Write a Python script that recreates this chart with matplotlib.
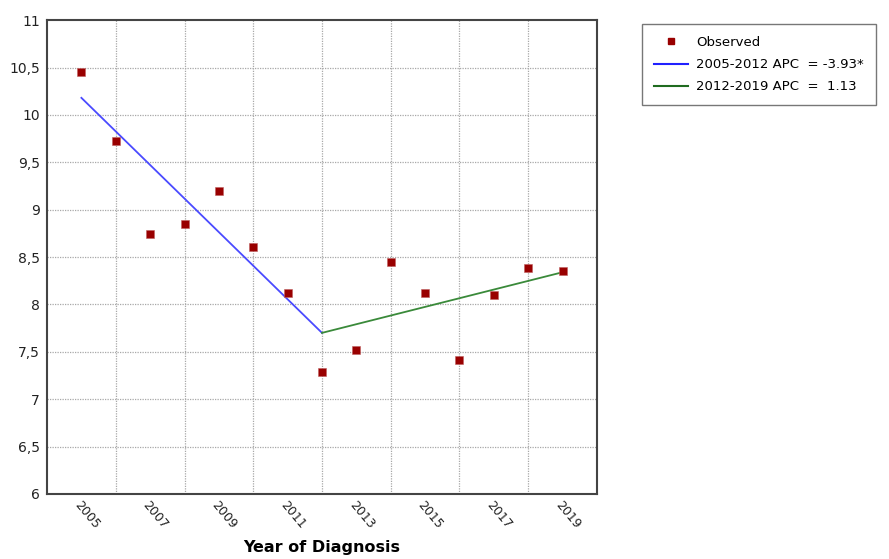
import matplotlib
matplotlib.use("Agg")
import matplotlib.pyplot as plt
from matplotlib.lines import Line2D
from matplotlib.ticker import FuncFormatter

# observed rates by year of diagnosis
years = [2005, 2006, 2007, 2008, 2009, 2010, 2011, 2012,
         2013, 2014, 2015, 2016, 2017, 2018, 2019]
observed = [10.45, 9.72, 8.74, 8.85, 9.20, 8.61, 8.12, 7.29,
            7.52, 8.45, 8.12, 7.41, 8.10, 8.38, 8.35]

# joinpoint segments (fitted endpoints)
seg1_years = [2005, 2012]
seg1_fit = [10.18, 7.70]
seg2_years = [2012, 2019]
seg2_fit = [7.70, 8.34]

seg1_label = "2005-2012 APC  = -3.93*"
seg2_label = "2012-2019 APC  =  1.13"

xtick_years = [2005, 2007, 2009, 2011, 2013, 2015, 2017, 2019]
grid_years = [2006, 2008, 2010, 2012, 2014, 2016, 2018]

fig = plt.figure(figsize=(8.89, 5.59), dpi=100)
ax = fig.add_axes([0.0529, 0.1163, 0.6186, 0.8477])

ax.plot(seg1_years, seg1_fit, color="#4a4aff", lw=1.3, zorder=3)
ax.plot(seg2_years, seg2_fit, color="#3a8a3a", lw=1.3, zorder=3)
ax.scatter(years, observed, marker="s", s=30, color="#990000",
           edgecolors="#c06060", linewidths=0.4, zorder=4)

ax.set_xlim(2004, 2020)
ax.set_ylim(6, 11)

# grid: horizontal every 0.5, vertical at even years
for yv in [6.5, 7, 7.5, 8, 8.5, 9, 9.5, 10, 10.5]:
    ax.axhline(yv, color="#a8a8a8", lw=0.9, ls=(0, (1, 1)), zorder=1)
for xv in grid_years:
    ax.axvline(xv, color="#a8a8a8", lw=0.9, ls=(0, (1, 1)), zorder=1)

ax.set_yticks([6, 6.5, 7, 7.5, 8, 8.5, 9, 9.5, 10, 10.5, 11])
ax.yaxis.set_major_formatter(FuncFormatter(
    lambda v, p: ("%g" % v).replace(".", ",")))
ax.set_xticks(xtick_years)
ax.set_xticklabels([str(y) for y in xtick_years], rotation=-50,
                   ha="left", va="top", rotation_mode="anchor")
ax.tick_params(axis="both", length=0, colors="#222222")
ax.tick_params(axis="y", labelsize=10, pad=5)
ax.tick_params(axis="x", labelsize=9, pad=3)

for sp in ax.spines.values():
    sp.set_color("#444444")
    sp.set_linewidth(1.5)

fig.text(0.3622, 0.0197, "Year of Diagnosis", fontsize=11.5,
         fontweight="bold", ha="center", va="center")

handles = [
    Line2D([], [], ls="none", marker="s", markersize=5, color="#990000"),
    Line2D([], [], color="#2020ff", lw=1.5),
    Line2D([], [], color="#1f6b1f", lw=1.5),
]
leg = fig.legend(handles, ["Observed", seg1_label, seg2_label],
                 loc="upper left", bbox_to_anchor=(0.722, 0.957),
                 fontsize=9.5, frameon=True, fancybox=False,
                 handlelength=2.6, handletextpad=0.6, labelspacing=0.7,
                 borderpad=0.9, borderaxespad=0)
leg.get_frame().set_edgecolor("#555555")
leg.get_frame().set_linewidth(1.0)

fig.savefig("out.png", dpi=100)
